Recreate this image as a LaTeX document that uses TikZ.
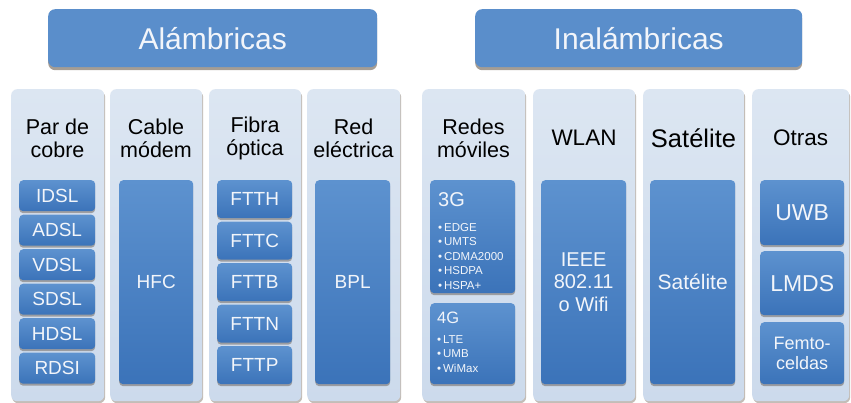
\documentclass[tikz,border=0pt]{standalone}
\usepackage{fontspec}
\setmainfont{Liberation Sans}
\usepackage{xcolor}
\usepackage{tikz}
\usetikzlibrary{shadows}
\definecolor{groupfill}{HTML}{5A8ECB}
\definecolor{coltop}{HTML}{DCE6F2}
\definecolor{colbot}{HTML}{CCDAEC}
\definecolor{itemtop}{HTML}{5D92CF}
\definecolor{itembot}{HTML}{3B73B9}
\definecolor{lighttext}{HTML}{F2F5FA}
\newcommand{\fsz}[2]{\fontsize{#1}{#2}\selectfont}
\tikzset{
    groupbox/.style={rectangle, rounded corners=7pt, fill=groupfill, text=lighttext, anchor=north west, inner sep=0pt, minimum height=58pt, font=\fsz{30}{34}, drop shadow={shadow xshift=0pt, shadow yshift=-3pt, opacity=0.45, fill=black!70!brown}},
    column/.style={rectangle, rounded corners=6pt, top color=coltop, bottom color=colbot, anchor=north west, inner sep=0pt, minimum height=312pt, drop shadow={shadow xshift=1pt, shadow yshift=-2pt, opacity=0.3, fill=black!70!brown}},
    item/.style={rectangle, rounded corners=4pt, top color=itemtop, bottom color=itembot, text=lighttext, align=center, anchor=north west, inner sep=0pt, font=\fsz{19}{22}, drop shadow={shadow xshift=0pt, shadow yshift=-2pt, opacity=0.35, fill=black!70!brown}},
    colhead/.style={align=center, inner sep=0pt, font=\fsz{21.5}{23}},
    bullets/.style={align=left, anchor=north west, inner sep=0pt, text=lighttext, font=\fsz{11.5}{14.5}},
}

\begin{document}
\begin{tikzpicture}[x=1pt, y=-1pt]
    \fill[white] (0,0) rectangle (851,403);
    \useasboundingbox (0,0) rectangle (851,403);

    \node[groupbox, minimum width=329pt] (alam) at (48,9) {Alámbricas};
    \node[groupbox, minimum width=327pt] (inal) at (475,9) {Inalámbricas};

    \node[column, minimum width=93pt] (cPar) at (11,89) {};
    \node[column, minimum width=92pt] (cCable) at (110,89) {};
    \node[column, minimum width=92pt] (cFibra) at (209,89) {};
    \node[column, minimum width=93pt] (cRed) at (307,89) {};
    \node[column, minimum width=103pt] (cMov) at (422,89) {};
    \node[column, minimum width=102pt] (cWlan) at (533,89) {};
    \node[column, minimum width=101pt] (cSat) at (643,89) {};
    \node[column, minimum width=97pt] (cOtras) at (752,89) {};

    \node[colhead] (hPar) at (57.5,138.5) {Par de\\cobre};
    \node[colhead] (hCable) at (156,138.5) {Cable\\módem};
    \node[colhead] (hFibra) at (255,138.5) {Fibra\\óptica};
    \node[colhead] (hRed) at (353.5,138.5) {Red\\eléctrica};
    \node[colhead] (hMov) at (473.5,138.5) {Redes\\móviles};
    \node[colhead, font=\fsz{22.5}{25}] (hWlan) at (584,138) {WLAN};
    \node[colhead, font=\fsz{25.5}{28}] (hSat) at (693.5,138) {Satélite};
    \node[colhead, font=\fsz{22.5}{25}] (hOtras) at (800.5,138) {Otras};

    \node[item, minimum width=76pt, minimum height=31pt] (idsl) at (19,180) {IDSL};
    \node[item, minimum width=76pt, minimum height=31pt] (adsl) at (19,214.5) {ADSL};
    \node[item, minimum width=76pt, minimum height=31pt] (vdsl) at (19,249) {VDSL};
    \node[item, minimum width=76pt, minimum height=31pt] (sdsl) at (19,283.5) {SDSL};
    \node[item, minimum width=76pt, minimum height=31pt] (hdsl) at (19,318) {HDSL};
    \node[item, minimum width=76pt, minimum height=31pt] (rdsi) at (19,352.5) {RDSI};

    \node[item, minimum width=74pt, minimum height=204pt] (hfc) at (119,180) {HFC};

    \node[item, minimum width=75pt, minimum height=38pt] (ftth) at (217,180) {FTTH};
    \node[item, minimum width=75pt, minimum height=38pt] (fttc) at (217,221.5) {FTTC};
    \node[item, minimum width=75pt, minimum height=38pt] (fttb) at (217,263) {FTTB};
    \node[item, minimum width=75pt, minimum height=38pt] (fttn) at (217,304.5) {FTTN};
    \node[item, minimum width=75pt, minimum height=38pt] (fttp) at (217,346) {FTTP};

    \node[item, minimum width=75pt, minimum height=204pt] (bpl) at (315,180) {BPL};

    \node[item, minimum width=85pt, minimum height=113pt] (g3) at (430,180) {};
    \node[anchor=west, inner sep=0pt, text=lighttext, font=\fsz{20}{22}] (g3title) at (438,200) {3G};
    \node[bullets] (g3list) at (438,223) {•\,EDGE\\•\,UMTS\\•\,CDMA2000\\•\,HSDPA\\•\,HSPA+};
    \node[item, minimum width=85pt, minimum height=81pt] (g4) at (430,303) {};
    \node[anchor=west, inner sep=0pt, text=lighttext, font=\fsz{16.5}{18}] (g4title) at (437,318) {4G};
    \node[bullets] (g4list) at (437,335) {•\,LTE\\•\,UMB\\•\,WiMax};

    \node[item, minimum width=85pt, minimum height=204pt, font=\fsz{20}{22.5}] (ieee) at (541,180) {IEEE\\802.11\\o Wifi};
    \node[item, minimum width=85pt, minimum height=204pt, font=\fsz{21}{24}] (sat) at (650,180) {Satélite};

    \node[item, minimum width=84pt, minimum height=65pt, font=\fsz{23}{25}] (uwb) at (760,180) {UWB};
    \node[item, minimum width=84pt, minimum height=64pt, font=\fsz{23}{25}] (lmds) at (760,251) {LMDS};
    \node[item, minimum width=84pt, minimum height=62pt, font=\fsz{18}{19.5}] (femto) at (760,322) {Femto-\\celdas};
\end{tikzpicture}
\end{document}
